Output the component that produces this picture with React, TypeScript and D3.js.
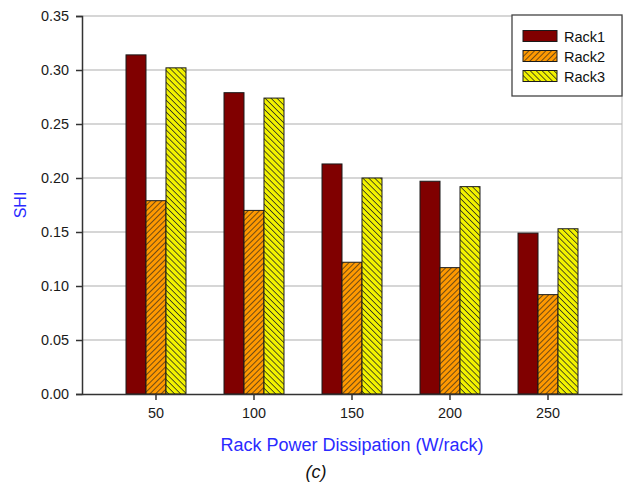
import React, { useEffect, useRef } from 'react';
import * as d3 from 'd3';

const categories = ['50', '100', '150', '200', '250'];
const seriesNames = ['Rack1', 'Rack2', 'Rack3'];
const rack1 = [0.314, 0.279, 0.213, 0.197, 0.149];
const rack2 = [0.179, 0.170, 0.122, 0.117, 0.092];
const rack3 = [0.302, 0.274, 0.200, 0.192, 0.153];
const yTicks = [0, 0.05, 0.1, 0.15, 0.2, 0.25, 0.3, 0.35];

const W = 623;
const H = 484;

const App = () => {
  const svgRef = useRef<SVGSVGElement>(null);

  useEffect(() => {
    const svg = d3.select(svgRef.current);
    svg.selectAll('*').remove();

    const font = '"Liberation Sans", Arial, sans-serif';
    const left = 82, right = 622, top = 16, bottom = 394;

    // patterns for the hatched bars
    const defs = svg.append('defs');
    const p2 = defs.append('pattern')
      .attr('id', 'hatch2').attr('patternUnits', 'userSpaceOnUse')
      .attr('width', 4).attr('height', 4)
      .attr('patternTransform', 'rotate(45)');
    p2.append('rect').attr('width', 4).attr('height', 4).attr('fill', '#ff9900');
    p2.append('line').attr('x1', 0).attr('y1', 0).attr('x2', 0).attr('y2', 4)
      .attr('stroke', '#222').attr('stroke-width', 1.3);

    const p3 = defs.append('pattern')
      .attr('id', 'hatch3').attr('patternUnits', 'userSpaceOnUse')
      .attr('width', 4.2).attr('height', 4.2)
      .attr('patternTransform', 'rotate(-45)');
    p3.append('rect').attr('width', 4.2).attr('height', 4.2).attr('fill', '#f2f200');
    p3.append('line').attr('x1', 0).attr('y1', 0).attr('x2', 0).attr('y2', 4.2)
      .attr('stroke', '#222').attr('stroke-width', 1.5);

    const fills = ['#800000', 'url(#hatch2)', 'url(#hatch3)'];

    const x = d3.scaleBand<string>()
      .domain(categories)
      .range([left, right])
      .paddingInner(0.388)
      .paddingOuter(0.449);
    const xSub = d3.scaleBand<string>()
      .domain(seriesNames)
      .range([0, x.bandwidth()]);
    const y = d3.scaleLinear().domain([0, 0.35]).range([bottom, top]);

    // grid lines
    svg.append('g')
      .selectAll('line')
      .data(yTicks.slice(1))
      .join('line')
      .attr('x1', left).attr('x2', right)
      .attr('y1', d => y(d)).attr('y2', d => y(d))
      .attr('stroke', '#c8c8c8').attr('stroke-width', 1.3);

    svg.append('line')
      .attr('x1', right).attr('x2', right).attr('y1', top).attr('y2', bottom)
      .attr('stroke', '#bbb');

    // bars
    const values = [rack1, rack2, rack3];
    seriesNames.forEach((name, si) => {
      svg.append('g')
        .selectAll('rect')
        .data(values[si])
        .join('rect')
        .attr('x', (_, i) => (x(categories[i]) ?? 0) + (xSub(name) ?? 0))
        .attr('y', d => y(d))
        .attr('width', xSub.bandwidth())
        .attr('height', d => bottom - y(d))
        .attr('fill', fills[si])
        .attr('stroke', '#1a1a1a')
        .attr('stroke-width', 1);
    });

    // y axis
    const yAxis = svg.append('g')
      .attr('transform', `translate(${left},0)`)
      .call(d3.axisLeft(y).tickValues(yTicks).tickFormat(d3.format('.2f')).tickSize(6).tickPadding(7));
    yAxis.select('.domain').attr('stroke', '#333').attr('stroke-width', 1.5);
    yAxis.selectAll('.tick line').attr('stroke', '#333').attr('stroke-width', 1.5);
    yAxis.selectAll('text').attr('font-family', font).attr('font-size', 14.4).attr('fill', '#1a1a1a');

    // x axis
    const xAxis = svg.append('g')
      .attr('transform', `translate(0,${bottom})`)
      .call(d3.axisBottom(x).tickSize(6).tickSizeOuter(0).tickPadding(8));
    xAxis.select('.domain').attr('stroke', '#333').attr('stroke-width', 1.5);
    xAxis.selectAll('.tick line').attr('stroke', '#333').attr('stroke-width', 1.5);
    xAxis.selectAll('text').attr('font-family', font).attr('font-size', 14.4).attr('fill', '#1a1a1a');

    // axis titles
    svg.append('text')
      .attr('x', (left + right) / 2).attr('y', 451)
      .attr('text-anchor', 'middle')
      .attr('font-family', font).attr('font-size', 18)
      .attr('fill', '#2a2aff')
      .text('Rack Power Dissipation (W/rack)');

    svg.append('text')
      .attr('transform', `translate(26,${(top + bottom) / 2}) rotate(-90)`)
      .attr('text-anchor', 'middle')
      .attr('font-family', font).attr('font-size', 16)
      .attr('fill', '#2a2aff')
      .text('SHI');

    svg.append('text')
      .attr('x', 316).attr('y', 478)
      .attr('text-anchor', 'middle')
      .attr('font-family', font).attr('font-size', 18)
      .attr('font-style', 'italic')
      .attr('fill', '#111')
      .text('(c)');

    // legend
    const lg = svg.append('g').attr('transform', 'translate(512,15)');
    lg.append('rect')
      .attr('width', 110).attr('height', 81)
      .attr('fill', '#fff').attr('stroke', '#444').attr('stroke-width', 1.3);
    seriesNames.forEach((name, i) => {
      const row = lg.append('g').attr('transform', `translate(11,${21 + i * 20})`);
      row.append('rect')
        .attr('x', 0).attr('y', -5.5).attr('width', 34).attr('height', 11)
        .attr('fill', fills[i]).attr('stroke', '#1a1a1a');
      row.append('text')
        .attr('x', 41).attr('y', 5.5)
        .attr('font-family', font).attr('font-size', 14.5)
        .attr('fill', '#111')
        .text(name);
    });
  }, []);

  return (
    <svg
      ref={svgRef}
      width={W}
      height={H}
      style={{ position: 'absolute', left: 0, top: 0, background: '#fff' }}
    />
  );
};

export default App;
